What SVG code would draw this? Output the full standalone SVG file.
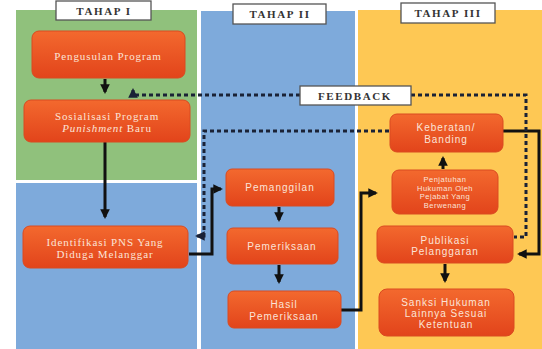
<svg xmlns="http://www.w3.org/2000/svg" width="542" height="349" viewBox="0 0 542 349">
<defs>
<linearGradient id="og" x1="0" y1="0" x2="0" y2="1">
<stop offset="0" stop-color="#F3692E"/>
<stop offset="1" stop-color="#E2441B"/>
</linearGradient>
<marker id="ah" viewBox="0 0 10 10" refX="8" refY="5" markerWidth="3.2" markerHeight="3.2" orient="auto" markerUnits="strokeWidth">
<path d="M0,0 L10,5 L0,10 z" fill="#111"/>
</marker>
<marker id="ahd" viewBox="0 0 10 10" refX="8" refY="5" markerWidth="3.2" markerHeight="3.2" orient="auto" markerUnits="strokeWidth">
<path d="M0,0 L10,5 L0,10 z" fill="#1a2236"/>
</marker>
</defs>
<style>
.box{fill:url(#og);stroke:#DA4A20;stroke-width:1}
.hdr{fill:#fff;stroke:#555;stroke-width:1.3}
.ht{font-family:"Liberation Serif",serif;font-weight:bold;font-size:11px;letter-spacing:1.6px;fill:#333;text-anchor:middle}
.st{font-family:"Liberation Serif",serif;font-size:11px;letter-spacing:0.9px;fill:#FBE4D8;text-anchor:middle}
.ss{font-family:"Liberation Sans",Arial,sans-serif;font-size:10px;letter-spacing:1px;fill:#FBE4D8;text-anchor:middle}
.sm{font-family:"Liberation Sans",Arial,sans-serif;font-size:7.5px;letter-spacing:0.5px;fill:#FBE4D8;text-anchor:middle}
.sol{fill:none;stroke:#111;stroke-width:3}
.dot{fill:none;stroke:#1a2236;stroke-width:3;stroke-dasharray:4 3}
</style>
<rect width="542" height="349" fill="#fff"/>
<!-- panels -->
<rect x="16" y="10" width="181" height="170" fill="#90C17C"/>
<rect x="16" y="183" width="181" height="166" fill="#7EAADB"/>
<rect x="201" y="11" width="154" height="338" fill="#7EAADB"/>
<rect x="358" y="10" width="184" height="339" fill="#FEC854"/>
<!-- headers -->
<g id="tahap1"><rect class="hdr" x="56" y="1" width="95" height="19"/><text class="ht" x="104" y="15">TAHAP I</text></g>
<g id="tahap2"><rect class="hdr" x="233" y="4" width="93" height="20"/><text class="ht" x="280" y="18">TAHAP II</text></g>
<g id="tahap3"><rect class="hdr" x="401" y="3" width="94" height="20"/><text class="ht" x="448" y="17">TAHAP III</text></g>
<!-- connectors -->
<g id="connectors">
<path class="sol" d="M105,79 V92" marker-end="url(#ah)"/>
<path class="sol" d="M105,142 V217" marker-end="url(#ah)"/>
<path class="sol" d="M279,207 V220" marker-end="url(#ah)"/>
<path class="sol" d="M279,265 V282" marker-end="url(#ah)"/>
<path class="sol" d="M443,169 V158" marker-end="url(#ah)"/>
<path class="sol" d="M445,264 V281" marker-end="url(#ah)"/>
<path class="sol" d="M189,254 H212 V189 H221" marker-end="url(#ah)"/>
<path class="sol" d="M341,310 H361 V193 H376" marker-end="url(#ah)"/>
<path class="sol" d="M503,131 H539 V254 H519" marker-end="url(#ah)"/>
<path class="dot" d="M300,95 H133 V90" marker-end="url(#ahd)"/>
<path class="dot" d="M411,95 H526 V237 H514"/>
<path class="dot" d="M389,131 H204 V236 H197" marker-end="url(#ahd)"/>
</g>
<g id="feedback"><rect class="hdr" x="300" y="86" width="111" height="19"/><text class="ht" x="355" y="100">FEEDBACK</text></g>
<!-- nodes -->
<g id="pengusulan"><rect class="box" x="32" y="31" width="153" height="47" rx="7"/><text class="st" x="108" y="60">Pengusulan Program</text></g>
<g id="sosialisasi"><rect class="box" x="24" y="100" width="166" height="42" rx="7"/><text class="st" x="107" y="119.5">Sosialisasi Program</text><text class="st" x="107" y="132"><tspan font-style="italic">Punishment</tspan> Baru</text></g>
<g id="identifikasi"><rect class="box" x="23" y="226" width="165" height="42" rx="7"/><text class="st" x="105" y="245.5">Identifikasi PNS Yang</text><text class="st" x="105" y="258">Diduga Melanggar</text></g>
<g id="pemanggilan"><rect class="box" x="226" y="169" width="108" height="37" rx="6"/><text class="ss" x="280" y="191">Pemanggilan</text></g>
<g id="pemeriksaan"><rect class="box" x="227" y="228" width="111" height="36" rx="6"/><text class="ss" x="282" y="250">Pemeriksaan</text></g>
<g id="hasil"><rect class="box" x="228" y="291" width="113" height="37" rx="6"/><text class="ss" x="284" y="308">Hasil</text><text class="ss" x="284" y="319.5">Pemeriksaan</text></g>
<g id="keberatan"><rect class="box" x="390" y="114" width="113" height="38" rx="7"/><text class="ss" x="446" y="131">Keberatan/</text><text class="ss" x="446" y="142.5">Banding</text></g>
<g id="penjatuhan"><rect class="box" x="392" y="170" width="106" height="44" rx="7"/><text class="sm" x="445" y="182">Penjatuhan</text><text class="sm" x="445" y="190.5">Hukuman Oleh</text><text class="sm" x="445" y="199">Pejabat Yang</text><text class="sm" x="445" y="207.5">Berwenang</text></g>
<g id="publikasi"><rect class="box" x="377" y="226" width="136" height="37" rx="7"/><text class="ss" x="445" y="243.5">Publikasi</text><text class="ss" x="445" y="255">Pelanggaran</text></g>
<g id="sanksi"><rect class="box" x="379" y="289" width="135" height="47" rx="8"/><text class="ss" x="446" y="305.5">Sanksi Hukuman</text><text class="ss" x="446" y="316.5">Lainnya Sesuai</text><text class="ss" x="446" y="327.5">Ketentuan</text></g>
</svg>
